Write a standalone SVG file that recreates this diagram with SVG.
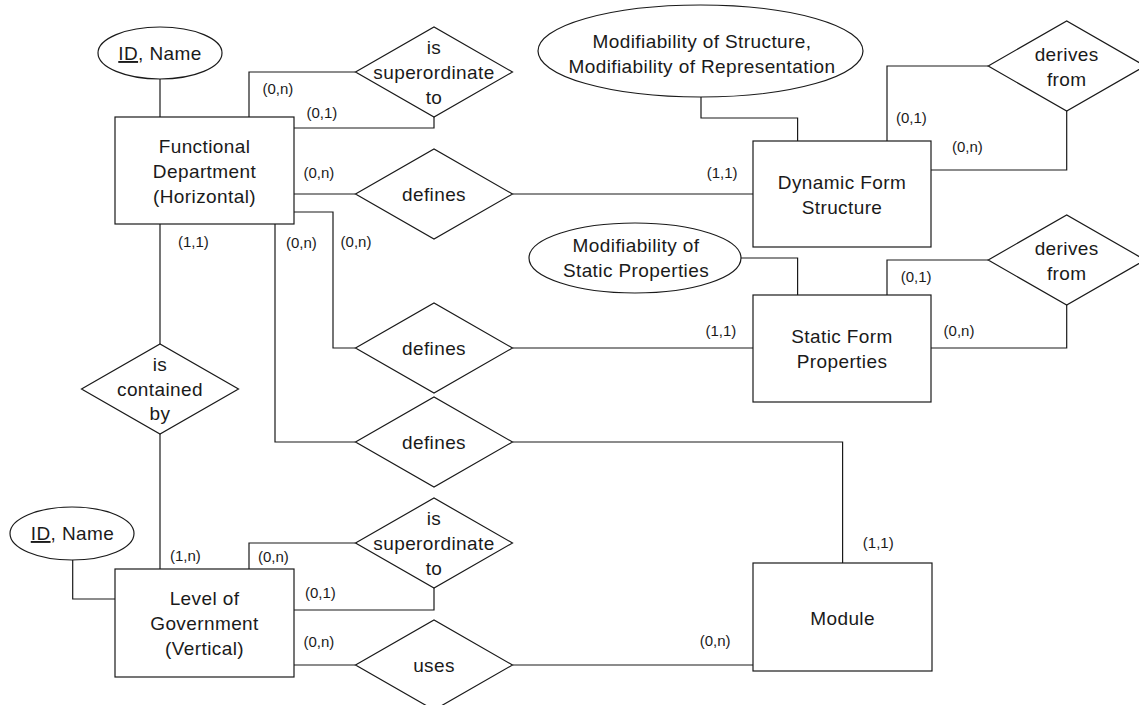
<svg xmlns="http://www.w3.org/2000/svg" width="1139" height="705" viewBox="0 0 1139 705">
  <style>
    .shape { fill: #ffffff; stroke: #1a1a1a; stroke-width: 1.2; }
    .conn path { fill: none; stroke: #1a1a1a; stroke-width: 1.2; }
    .t { font-family: "Liberation Sans", Arial, sans-serif; font-size: 19px; letter-spacing: 0.4px; fill: #1a1a1a; text-anchor: middle; }
    .card { font-family: "Liberation Sans", Arial, sans-serif; font-size: 15px; fill: #1a1a1a; }
  </style>
  <defs>
    <polygon id="rel" points="-78.5,0 0,-45 78.5,0 0,45"/>
  </defs>
  <rect width="1139" height="705" fill="#ffffff"/>

  <!-- connectors -->
  <g id="connectors" class="conn">
    <path d="M160,79 V117"/>
    <path d="M249,117 V72 H355.5"/>
    <path d="M294,128 H434 V117"/>
    <path d="M294,194 H355.5"/>
    <path d="M512.5,194 H753"/>
    <path d="M294,212 H333 V348 H355.5"/>
    <path d="M275,224 V442 H355.5"/>
    <path d="M512.5,348 H753"/>
    <path d="M512.5,442 H842.6 V563"/>
    <path d="M160,224 V344"/>
    <path d="M160,434 V569"/>
    <path d="M72.7,560 V599 H115"/>
    <path d="M249,569 V543 H355.5"/>
    <path d="M294,610 H434 V588"/>
    <path d="M294,665 H355.5"/>
    <path d="M512.5,665 H753"/>
    <path d="M701,97 V118 H797.6 V141"/>
    <path d="M887,141 V66 H988"/>
    <path d="M931,170 H1066.7 V111"/>
    <path d="M740.7,258 H797.6 V295"/>
    <path d="M887,295 V260 H988"/>
    <path d="M931,348 H1066.7 V305"/>
  </g>

  <!-- cardinalities -->
  <g id="cardinalities" class="card">
    <text x="262.5" y="94">(0,n)</text>
    <text x="306.4" y="118">(0,1)</text>
    <text x="303.5" y="178">(0,n)</text>
    <text x="178" y="247">(1,1)</text>
    <text x="286" y="248">(0,n)</text>
    <text x="340.6" y="247">(0,n)</text>
    <text x="170" y="561">(1,n)</text>
    <text x="258" y="562">(0,n)</text>
    <text x="305" y="598">(0,1)</text>
    <text x="303.5" y="647">(0,n)</text>
    <text x="699.7" y="646">(0,n)</text>
    <text x="862.8" y="548">(1,1)</text>
    <text x="706.7" y="178">(1,1)</text>
    <text x="896" y="123">(0,1)</text>
    <text x="952" y="152">(0,n)</text>
    <text x="705.5" y="336">(1,1)</text>
    <text x="900.7" y="282">(0,1)</text>
    <text x="943.6" y="336">(0,n)</text>
  </g>

  <!-- attributes -->
  <g id="attr-fd">
    <ellipse class="shape" cx="160" cy="53" rx="62" ry="26"/>
    <text class="t" x="160" y="60"><tspan text-decoration="underline">ID</tspan>, Name</text>
  </g>
  <g id="attr-lg">
    <ellipse class="shape" cx="72" cy="533.5" rx="62" ry="26.5"/>
    <text class="t" x="72.5" y="540"><tspan text-decoration="underline">ID</tspan>, Name</text>
  </g>
  <g id="attr-dfs">
    <ellipse class="shape" cx="700.5" cy="51" rx="162.5" ry="46"/>
    <text class="t" x="702" y="48">Modifiability of Structure,</text>
    <text class="t" x="702" y="72.5">Modifiability of Representation</text>
  </g>
  <g id="attr-sfp">
    <ellipse class="shape" cx="635" cy="258" rx="106" ry="35"/>
    <text class="t" x="636" y="252">Modifiability of</text>
    <text class="t" x="636" y="277">Static Properties</text>
  </g>

  <!-- entities -->
  <g id="functional-department">
    <rect class="shape" x="115" y="117" width="179" height="107"/>
    <text class="t" x="204.5" y="153">Functional</text>
    <text class="t" x="204.5" y="178">Department</text>
    <text class="t" x="204.5" y="203">(Horizontal)</text>
  </g>
  <g id="level-of-government">
    <rect class="shape" x="115" y="569" width="179" height="108"/>
    <text class="t" x="204.5" y="605">Level of</text>
    <text class="t" x="204.5" y="630">Government</text>
    <text class="t" x="204.5" y="655">(Vertical)</text>
  </g>
  <g id="dynamic-form-structure">
    <rect class="shape" x="753" y="141" width="178" height="106"/>
    <text class="t" x="842" y="189">Dynamic Form</text>
    <text class="t" x="842" y="214">Structure</text>
  </g>
  <g id="static-form-properties">
    <rect class="shape" x="753" y="295" width="178" height="107"/>
    <text class="t" x="842" y="343">Static Form</text>
    <text class="t" x="842" y="368">Properties</text>
  </g>
  <g id="module">
    <rect class="shape" x="753" y="563" width="179" height="108"/>
    <text class="t" x="842.6" y="624.5">Module</text>
  </g>

  <!-- relationships -->
  <g id="fd-superordinate">
    <use href="#rel" class="shape" x="434" y="72"/>
    <text class="t" x="434" y="53.5">is</text>
    <text class="t" x="434" y="78.5">superordinate</text>
    <text class="t" x="434" y="103.5">to</text>
  </g>
  <g id="defines-dfs">
    <use href="#rel" class="shape" x="434" y="194"/>
    <text class="t" x="434" y="200.5">defines</text>
  </g>
  <g id="defines-sfp">
    <use href="#rel" class="shape" x="434" y="348"/>
    <text class="t" x="434" y="354.5">defines</text>
  </g>
  <g id="defines-module">
    <use href="#rel" class="shape" x="434" y="442"/>
    <text class="t" x="434" y="448.5">defines</text>
  </g>
  <g id="is-contained-by">
    <use href="#rel" class="shape" x="160" y="389"/>
    <text class="t" x="160" y="371">is</text>
    <text class="t" x="160" y="395.5">contained</text>
    <text class="t" x="160" y="420">by</text>
  </g>
  <g id="lg-superordinate">
    <use href="#rel" class="shape" x="434" y="543"/>
    <text class="t" x="434" y="524.5">is</text>
    <text class="t" x="434" y="549.5">superordinate</text>
    <text class="t" x="434" y="574.5">to</text>
  </g>
  <g id="uses">
    <use href="#rel" class="shape" x="434" y="665"/>
    <text class="t" x="434" y="671.5">uses</text>
  </g>
  <g id="dfs-derives-from">
    <use href="#rel" class="shape" x="1066.7" y="66"/>
    <text class="t" x="1066.7" y="60.5">derives</text>
    <text class="t" x="1066.7" y="85.5">from</text>
  </g>
  <g id="sfp-derives-from">
    <use href="#rel" class="shape" x="1066.7" y="260"/>
    <text class="t" x="1066.7" y="254.5">derives</text>
    <text class="t" x="1066.7" y="279.5">from</text>
  </g>
</svg>
